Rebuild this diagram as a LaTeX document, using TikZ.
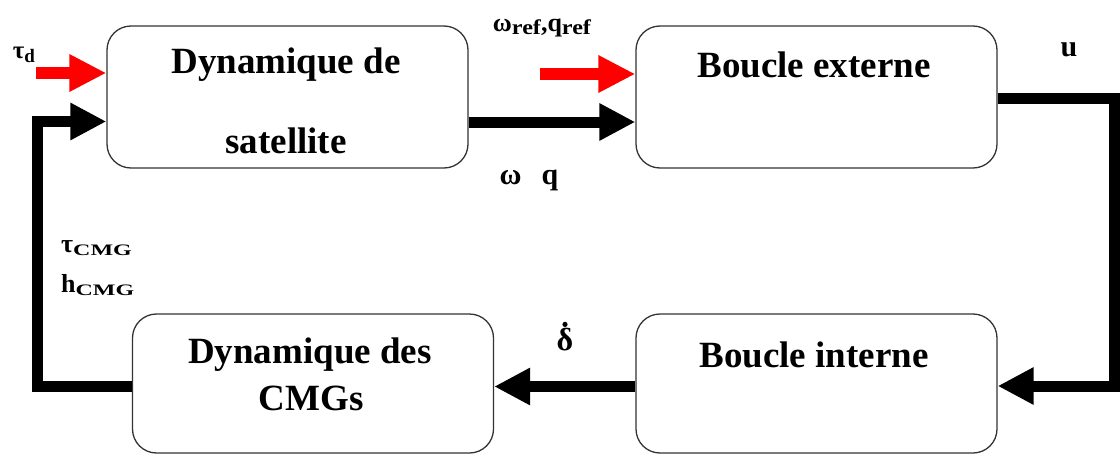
\documentclass[tikz,border=0pt]{standalone}
\usepackage{fontspec}
\usepackage{graphicx}
\setmainfont{Liberation Serif}
\usetikzlibrary{arrows.meta,calc}

\tikzset{
  blockbox/.style={draw=black!80, line width=1.3pt, rounded corners=24pt,
    minimum width=361pt, minimum height=142pt, inner sep=0pt},
  lowbox/.style={blockbox, minimum height=139pt},
  blocktext/.style={font=\bfseries\fontsize{37}{37}\selectfont, anchor=base, inner sep=0pt},
  mainflow/.style={line width=11pt, line join=miter, -{Triangle[length=36pt,width=35pt]}},
  refarrow/.style={draw=red, line width=12pt, -{Triangle[length=37pt,width=35pt]}},
  sig/.style={font=\bfseries, inner sep=0pt},
}

\begin{document}
\begin{tikzpicture}[x=1pt,y=-1pt]
\useasboundingbox (0,0) rectangle (1120,455);

% blocks
\node[blockbox] (bsat) at (287.5,97) {};
\node[blockbox] (bext) at (816.5,97) {};
\node[lowbox]   (bcmg) at (313,383.5) {};
\node[lowbox]   (bint) at (816.5,383.5) {};

% block titles
\node[blocktext] (satA) at (286,73)  {Dynamique de};
\node[blocktext] (satB) at (286,153) {satellite};
\node[blocktext] (extT) at (814,77)  {Boucle externe};
\node[blocktext] (cmgA) at (310,363) {Dynamique des};
\node[blocktext] (cmgB) at (311,410) {CMGs};
\node[blocktext] (intT) at (814,367) {Boucle interne};

% reference and disturbance inputs
\coordinate (tdin) at (36,73);
\coordinate (wrefin) at (540,74);
\draw[refarrow] (tdin) -- (tdin -| bsat.west);
\draw[refarrow] (wrefin) -- (wrefin -| bext.west);

% satellite state to outer loop
\draw[mainflow] ($(bsat.east)+(0,25)$) -- ($(bext.west)+(0,25)$);

% outer loop command to inner loop
\coordinate (rx) at (1114,0);
\coordinate (uo) at ($(bext.east)+(0,1)$);
\coordinate (ui) at ($(bint.east)+(0,2.5)$);
\draw[mainflow] (uo) -- (uo -| rx) -- (ui -| rx) -- (ui);

% inner loop to CMG dynamics
\draw[mainflow] ($(bint.west)+(0,3)$) -- ($(bcmg.east)+(0,3)$);

% CMG torque back to the satellite
\coordinate (lx) at (37,0);
\coordinate (co) at ($(bcmg.west)+(0,3)$);
\coordinate (ci) at ($(bsat.west)+(0,24.5)$);
\draw[mainflow] (co) -- (co -| lx) -- (ci -| lx) -- (ci);

% signal labels
\node[sig] (td) at (24,55) {\fontsize{25}{25}\selectfont τ\raisebox{-4pt}{\fontsize{19}{19}\selectfont d}};
\node[sig] (wref) at (542,28) {\fontsize{26}{26}\selectfont ω\raisebox{-3pt}{\scalebox{1.15}[1]{\fontsize{21}{21}\selectfont ref}},q\raisebox{-3pt}{\scalebox{1.15}[1]{\fontsize{21}{21}\selectfont ref}}};
\node[sig] (wq) at (529,180) {\fontsize{30}{30}\selectfont ω\hspace{20pt}q};
\node[sig] (ulab) at (1069,50) {\fontsize{30}{30}\selectfont u};
\node[sig, anchor=base west] (tcmg) at (61,252) {\fontsize{26}{26}\selectfont τ\raisebox{-3pt}{\scalebox{1.5}[1]{\fontsize{16}{16}\selectfont CMG}}};
\node[sig, anchor=base west] (hcmg) at (61,292) {\fontsize{26}{26}\selectfont h\raisebox{-3pt}{\scalebox{1.5}[1]{\fontsize{16}{16}\selectfont CMG}}};
\node[sig] (dd) at (565,340) {\fontsize{32}{32}\selectfont δ};
\fill ($(dd.north)+(0,-4)$) circle (2.6pt);
\end{tikzpicture}
\end{document}
